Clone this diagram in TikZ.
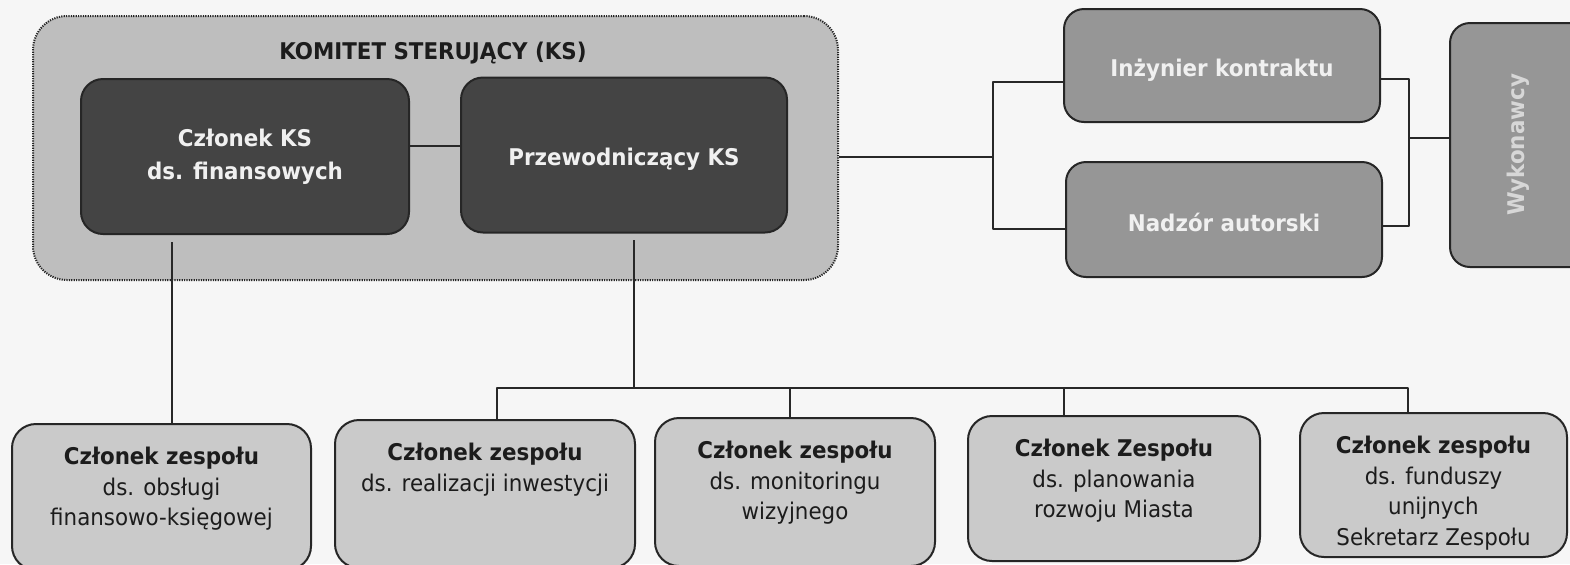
\documentclass[tikz,border=0pt]{standalone}
\usepackage{fontspec}
\setmainfont{DejaVu Sans}[FakeStretch=0.93]
\definecolor{bgc}{RGB}{246,246,246}
\definecolor{ksfill}{RGB}{190,190,190}
\definecolor{darkfill}{RGB}{68,68,68}
\definecolor{midfill}{RGB}{150,150,150}
\definecolor{lightfill}{RGB}{202,202,202}
\definecolor{linec}{RGB}{40,40,40}
\definecolor{txt}{RGB}{28,28,28}
\definecolor{wtxt}{RGB}{240,240,240}
\definecolor{wyktxt}{RGB}{215,215,215}
\begin{document}
\begin{tikzpicture}[x=0.5pt,y=-0.5pt,line join=round,
  ln/.style={line width=1.15pt,draw=linec},
  ksbox/.style={draw=black!85,fill=ksfill,line width=1pt,dash pattern=on 0.6pt off 0.6pt,rounded corners=17pt,inner sep=0pt},
  darkbox/.style={draw=black!85,fill=darkfill,line width=1pt,rounded corners=11pt,inner sep=0pt,
    text=wtxt,font=\fontsize{11.5pt}{16.5pt}\selectfont\bfseries,align=center},
  midbox/.style={draw=black!85,fill=midfill,line width=1pt,rounded corners=10pt,inner sep=0pt},
  midtext/.style={inner sep=0pt,text=wtxt,font=\fontsize{11.5pt}{15pt}\selectfont\bfseries},
  lightbox/.style={draw=black!85,fill=lightfill,line width=1pt,rounded corners=12pt,inner sep=0pt},
  btext/.style={anchor=north,inner sep=0pt,align=center,text=txt,font=\fontsize{11.5pt}{15.25pt}\selectfont},
  titlet/.style={inner sep=0pt,text=txt,font=\fontsize{11.5pt}{15pt}\selectfont\bfseries}]
\useasboundingbox[fill=bgc] (0,0) rectangle (1570,564);

% steering committee container
\node[ksbox,minimum width=402.5pt,minimum height=132pt] (ks) at (435.5,148) {};
\node[titlet] (kst) at (433,53) {KOMITET STERUJĄCY (KS)};

% connector coordinates
\coordinate (j1) at (435,146);
\coordinate (f1) at (172,242);
\coordinate (p1) at (634,240);
\coordinate (bus) at (634,388);
\coordinate (d2) at (497,388);
\coordinate (d3) at (790,388);
\coordinate (d4) at (1064,388);
\coordinate (d5) at (1408,388);
\coordinate (r0) at (993,157);
\coordinate (r1) at (993,82);
\coordinate (r2) at (993,229);
\coordinate (s0) at (1409,138);
\coordinate (s1) at (1409,79);
\coordinate (s2) at (1409,226);

% boxes
\node[darkbox,minimum width=164pt,minimum height=77.5pt] (ksfin) at (245,156.5) {Członek KS\\ds. finansowych};
\node[darkbox,minimum width=163pt,minimum height=77.5pt] (ksprz) at (624,155) {};
\node[midtext,text depth=0pt] (ksprzt) at (624,157) {Przewodniczący KS};

\node[midbox,minimum width=158pt,minimum height=56.5pt] (inz) at (1222,65.5) {};
\node[midtext] (inzt) at (1222,70) {Inżynier kontraktu};
\node[midbox,minimum width=158pt,minimum height=57.5pt] (nad) at (1224,219.5) {};
\node[midtext] (nadt) at (1224,222) {Nadzór autorski};
\node[midbox,minimum width=75pt,minimum height=122pt] (wyk) at (1525,145) {};
\node[midtext,rotate=90,anchor=base,text=wyktxt] (wykt) at (1524,145) {Wykonawcy};

\node[lightbox,minimum width=149.5pt,minimum height=73pt] (b1) at (161.5,497) {};
\node[lightbox,minimum width=150pt,minimum height=74pt] (b2) at (485,494) {};
\node[lightbox,minimum width=140pt,minimum height=74pt] (b3) at (795,492) {};
\node[lightbox,minimum width=146pt,minimum height=72.5pt] (b4) at (1114,488.5) {};
\node[lightbox,minimum width=133.5pt,minimum height=72pt] (b5) at (1433.5,485) {};

\node[btext] (b1t) at ([yshift=-12pt]b1.north) {\textbf{Członek zespołu}\\ds. obsługi\\finansowo-księgowej};
\node[btext] (b2t) at ([yshift=-12pt]b2.north) {\textbf{Członek zespołu}\\ds. realizacji inwestycji};
\node[btext] (b3t) at ([yshift=-12pt]b3.north) {\textbf{Członek zespołu}\\ds. monitoringu\\wizyjnego};
\node[btext] (b4t) at ([yshift=-12pt]b4.north) {\textbf{Członek Zespołu}\\ds. planowania\\rozwoju Miasta};
\node[btext] (b5t) at ([yshift=-12pt]b5.north) {\textbf{Członek zespołu}\\ds. funduszy\\unijnych\\Sekretarz Zespołu};

% connectors
\draw[ln] (j1 -| ksfin.east) -- (j1 -| ksprz.west);
\draw[ln] (f1) -- (f1 |- b1.north);
\draw[ln] (p1) -- (bus);
\draw[ln] (d2 |- b2.north) -- (d2) -- (d5) -- (d5 |- b5.north);
\draw[ln] (d3) -- (d3 |- b3.north);
\draw[ln] (d4) -- (d4 |- b4.north);
\draw[ln] (r0 -| ks.east) -- (r0);
\draw[ln] (r1 -| inz.west) -- (r1) -- (r2) -- (r2 -| nad.west);
\draw[ln] (s1 -| inz.east) -- (s1) -- (s2) -- (s2 -| nad.east);
\draw[ln] (s0) -- (s0 -| wyk.west);
\end{tikzpicture}
\end{document}
